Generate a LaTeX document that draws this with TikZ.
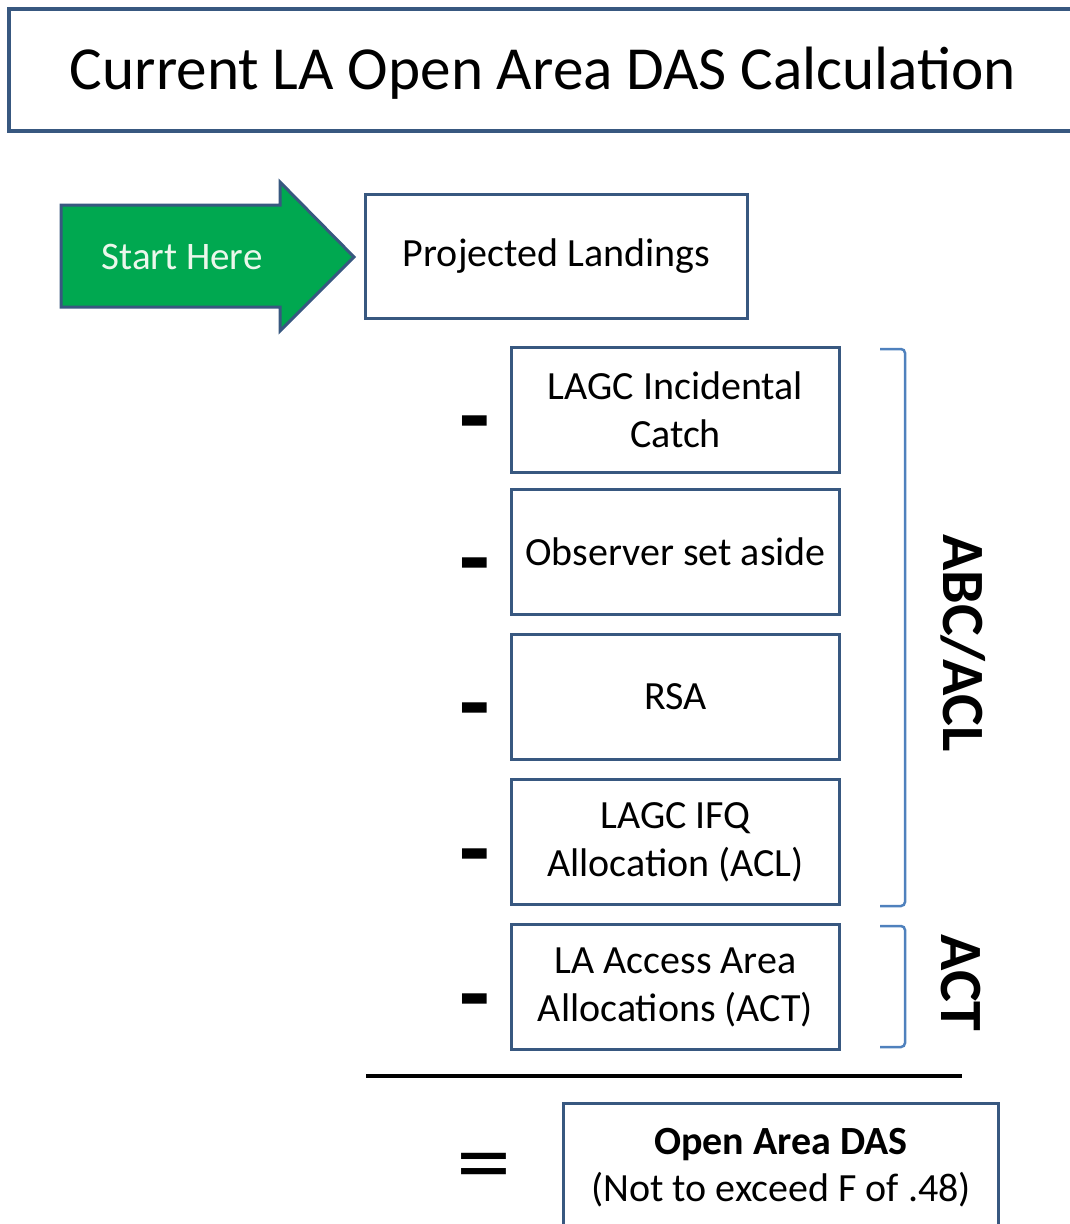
\documentclass[tikz,border=0pt]{standalone}
\usepackage{fontspec}
\setmainfont{Carlito}
\definecolor{boxc}{RGB}{56,88,128}
\definecolor{brack}{RGB}{79,129,189}
\definecolor{arrowgreen}{RGB}{0,168,80}
\definecolor{startc}{RGB}{235,247,235}
\begin{document}
\begin{tikzpicture}[x=1pt,y=-1pt,
  box/.style={draw=boxc, line width=3pt, fill=white, minimum width=328pt, minimum height=125pt,
    align=center, inner sep=0pt, font=\fontsize{40}{48}\selectfont},
  minussign/.style={inner sep=0pt, font=\bfseries\fontsize{100}{100}\selectfont},
  bracketline/.style={draw=brack, line width=2.5pt, rounded corners=4pt},
  sidelabel/.style={rotate=-90, inner sep=0pt, font=\bfseries\fontsize{60}{60}\selectfont}]
\useasboundingbox (0,0) rectangle (1070,1224);
% title
\draw[boxc, line width=4pt] (9,9) rectangle (1080,131);
\node[inner sep=0pt, font=\fontsize{61.2}{62}\selectfont] (title) at (543,73) {Current LA Open Area DAS Calculation};
% start arrow
\draw[boxc, line width=3pt, fill=arrowgreen, line join=miter]
  (61,205) -- (280,205) -- (280,182) -- (354,257) -- (280,331) -- (280,307) -- (61,307) -- cycle;
\node[inner sep=0pt, text=startc, font=\fontsize{39}{39}\selectfont] (start) at (182,257) {Start Here};
% projected landings
\node[box, minimum width=382pt, minimum height=124pt] (proj) at (556.5,256.5) {\raisebox{-2pt}{Projected Landings}};
% column
\node[box] (b1) at (675.5,409.5) {LAGC Incidental\\Catch};
\node[box] (b2) at (675.5,552) {Observer set aside};
\node[box] (b3) at (675.5,696.5) {RSA};
\node[box] (b4) at (675.5,842) {LAGC IFQ\\Allocation (ACL)};
\node[box] (b5) at (675.5,987) {LA Access Area\\Allocations (ACT)};
% minus signs
\node[minussign] (m1) at (475,433) {-};
\node[minussign] (m2) at (475,575) {-};
\node[minussign] (m3) at (475,720) {-};
\node[minussign] (m4) at (475,866) {-};
\node[minussign] (m5) at (475,1011) {-};
% rule
\draw[black, line width=4pt] (366,1076) -- (962,1076);
% equals
\node[inner sep=0pt, xscale=1.15, font=\fontsize{96}{96}\selectfont] (eq) at (484,1174) {=};
% result
\node[draw=boxc, line width=3pt, fill=white, minimum width=435pt, minimum height=140pt, inner sep=0pt] (das) at (781,1173.5) {};
\node[inner sep=0pt, align=center, font=\fontsize{40}{47}\selectfont] (dastext) at (781,1168) {\textbf{Open Area DAS}\\(Not to exceed F of .48)};
% brackets
\draw[bracketline] (880,349) -- (905,349) -- (905,906) -- (880,906);
\draw[bracketline] (880,926) -- (905,926) -- (905,1047) -- (880,1047);
\node[sidelabel] (abc) at (963,643) {ABC/ACL};
\node[sidelabel] (act) at (961,983) {ACT};
\end{tikzpicture}
\end{document}
